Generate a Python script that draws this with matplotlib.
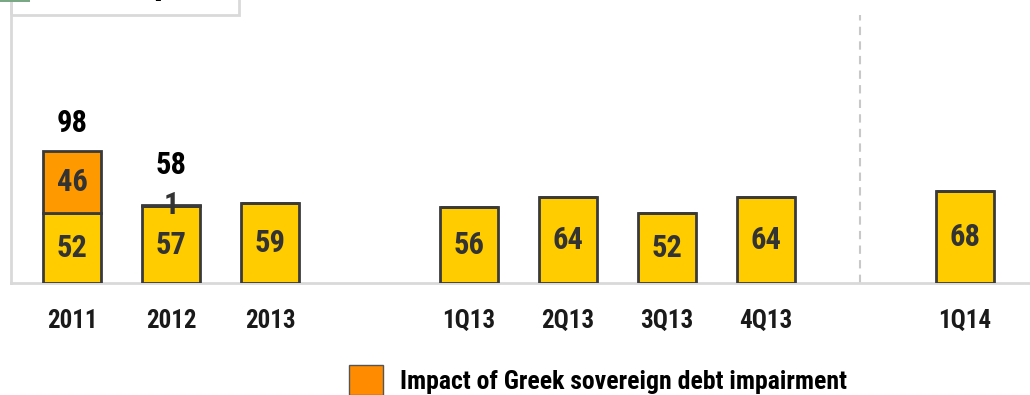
import matplotlib
matplotlib.use("Agg")
import matplotlib.pyplot as plt

categories = ["2011", "2012", "2013", "1Q13", "2Q13", "3Q13", "4Q13", "1Q14"]
positions = [0, 1, 2, 4, 5, 6, 7, 9]
base_values = [52, 57, 59, 56, 64, 52, 64, 68]
greek_impact = [46, 1, 0, 0, 0, 0, 0, 0]
legend_label = "Impact of Greek sovereign debt impairment"

FONT = ["Roboto Condensed", "DejaVu Sans"]

YELLOW = "#FFCC00"
ORANGE = "#FF9900"
EDGE = "#3a3a3a"
LABEL = "#333333"
GRID = "#d9d9d9"

W, H, DPI = 1030, 395, 100
fig = plt.figure(figsize=(W / DPI, H / DPI), dpi=DPI)
ax = fig.add_axes([11 / W, (H - 283) / H, 1 - 11 / W, 283 / H])

px_per_unit = 1.35
ax.set_ylim(0, 283 / px_per_unit)
ax.set_xlim(-0.615, 9.66)

bw = 0.585
ax.bar(positions, base_values, width=bw, color=YELLOW, edgecolor=EDGE, linewidth=2, zorder=3)
ax.bar(positions, greek_impact, bottom=base_values, width=bw, color=ORANGE,
       edgecolor=EDGE, linewidth=2, zorder=3)

LBL_SIZE = 22
for x, b, g in zip(positions, base_values, greek_impact):
    ax.text(x, b / 2, str(b), ha="center", va="center", fontsize=LBL_SIZE,
            fontweight="bold", color=LABEL, family=FONT, zorder=5)
    if g > 0:
        ax.text(x, b + g / 2, str(g), ha="center", va="center", fontsize=LBL_SIZE,
                fontweight="bold", color=LABEL, family=FONT, zorder=5)

# totals above stacked bars
total_offsets_px = [28, 40]
k = 0
for x, b, g in zip(positions, base_values, greek_impact):
    if g > 0:
        tot = b + g
        off = total_offsets_px[k] if k < len(total_offsets_px) else 30
        k += 1
        ax.text(x, tot + off / px_per_unit, str(tot), ha="center", va="center",
                fontsize=LBL_SIZE, fontweight="bold", color="black", family=FONT, zorder=5)

# divider between quarters
ax.plot([7.95, 7.95], [0, (283 - 15) / px_per_unit], color="#c8c8c8", lw=1.5,
        ls=(0, (4, 3)), zorder=1)

ax.set_xticks(positions)
ax.set_xticklabels(categories, fontsize=18, fontweight="bold", family=FONT, color="#1a1a1a")
ax.tick_params(axis="x", length=0, pad=19)
ax.set_yticks([])
for s in ["top", "right"]:
    ax.spines[s].set_visible(False)
ax.spines["bottom"].set_color(GRID)
ax.spines["bottom"].set_linewidth(2)
ax.spines["left"].set_color(GRID)
ax.spines["left"].set_linewidth(2)

# cut-off title box at top-left
fig.patches.append(plt.Rectangle((11 / W, (H - 15) / H), (239 - 11) / W, 20 / H,
                                 transform=fig.transFigure, fill=False,
                                 edgecolor=GRID, lw=2))
fig.patches.append(plt.Rectangle((0, (H - 2) / H), 30 / W, 2 / H,
                                 transform=fig.transFigure, color="#7aa884", lw=0))
fig.text(162 / W, (H + 7) / H, "p", fontsize=26, fontweight="bold",
         ha="center", va="baseline", family=FONT)

# legend
fig.patches.append(plt.Rectangle((349 / W, 0), 34 / W, 30 / H,
                                 transform=fig.transFigure, facecolor="#FF8C00",
                                 edgecolor="#555555", lw=1))
fig.text(400 / W, (H - 382) / H, legend_label, fontsize=18.5, fontweight="bold",
         ha="left", va="center", family=FONT)

fig.savefig("out.png", dpi=DPI)
